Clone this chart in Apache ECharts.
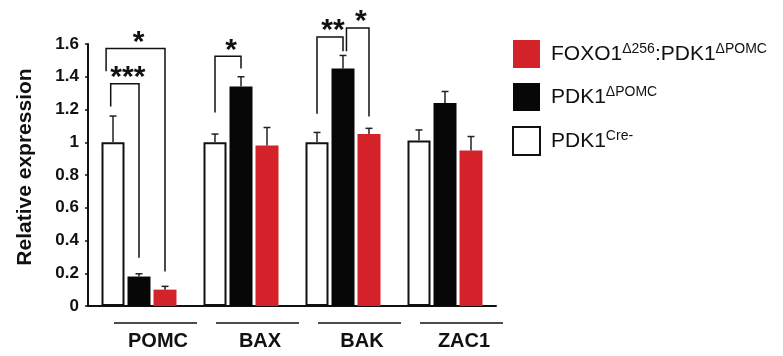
<!DOCTYPE html>
<html>
<head>
<meta charset="utf-8">
<script src="https://cdn.jsdelivr.net/npm/echarts@6/dist/echarts.min.js"></script>
<style>html,body{margin:0;padding:0;background:#fff;}#c{width:783px;height:356px;}</style>
</head>
<body>
<div id="c"></div>
<script>
// ---- data ----
const categories = ['POMC', 'BAX', 'BAK', 'ZAC1'];
const seriesNames = ['PDK1Cre-', 'PDK1ΔPOMC', 'FOXO1Δ256:PDK1ΔPOMC'];
const creValues  = [1.00, 1.00, 1.00, 1.01];
const creErrors  = [0.16, 0.05, 0.06, 0.065];
const pdkValues  = [0.18, 1.34, 1.45, 1.24];
const pdkErrors  = [0.017, 0.06, 0.08, 0.07];
const foxoValues = [0.10, 0.98, 1.05, 0.95];
const foxoErrors = [0.02, 0.11, 0.035, 0.085];
const yMin = 0, yMax = 1.6, yStep = 0.2;
const yAxisName = 'Relative expression';
// significance brackets: category, bar from, bar to, top value, from-end value, to-end value
const bracketCats   = [0, 0, 1, 2, 2];
const bracketFrom   = [0, 0, 0, 0, 1];
const bracketTo     = [2, 1, 1, 1, 2];
const bracketTop    = [1.572, 1.358, 1.525, 1.643, 1.698];
const bracketFromY  = [1.433, 1.219, 1.182, 1.174, 1.555];
const bracketToY    = [0.21, 0.294, 1.45, 1.555, 1.158];
const bracketLabels = ['*', '***', '*', '**', '*'];
const legendRich = {
  'FOXO1Δ256:PDK1ΔPOMC': '{n|FOXO1}{s|Δ256}{n|:PDK1}{s|ΔPOMC}',
  'PDK1ΔPOMC': '{n|PDK1}{s|ΔPOMC}',
  'PDK1Cre-': '{n|PDK1}{s|Cre-}'
};

// ---- layout / style ----
const FONT = '"Liberation Sans", Arial, sans-serif';
const BAR_W = 23, BAR_GAP = 3, STEP = BAR_W + BAR_GAP;
const bracketShift = [[-0.3, 0], [-0.1, 0], [0, 0], [0, 0], [0.15, 0]];
const colors = ['#ffffff', '#070707', '#d3222a'];

const chart = echarts.init(document.getElementById('c'), null, {renderer: 'canvas'});

function errSeries(k, vals, errs) {
  return {
    type: 'custom', name: seriesNames[k] + '_err', silent: true, clip: false, z: 5,
    data: vals.map((v, i) => [i, v, errs[i]]),
    renderItem: function (params, api) {
      const base = api.coord([api.value(0), 0]);
      const x = base[0] + (k - 1) * STEP;
      const y0 = api.coord([api.value(0), api.value(1)])[1];
      const y1 = api.coord([api.value(0), api.value(1) + api.value(2)])[1];
      return {
        type: 'group', children: [
          {type: 'line', shape: {x1: x, y1: y0, x2: x, y2: y1}, style: {stroke: '#222', lineWidth: 1.5}},
          {type: 'line', shape: {x1: x - 3.5, y1: y1, x2: x + 3.5, y2: y1}, style: {stroke: '#222', lineWidth: 1.5}}
        ]
      };
    }
  };
}

const bracketData = bracketCats.map((c, i) => [c, bracketFrom[i], bracketTo[i], bracketTop[i], bracketFromY[i], bracketToY[i]]);

const option = {
  backgroundColor: '#fff',
  animation: false,
  grid: {left: 88, width: 408, top: 44, bottom: 50},
  legend: {
    orient: 'vertical', left: 507, top: 35,
    itemWidth: 27, itemHeight: 28, itemGap: 15,
    icon: 'rect',
    data: [seriesNames[2], seriesNames[1], seriesNames[0]],
    formatter: name => legendRich[name],
    textStyle: {
      padding: [0, 0, 0, 6],
      rich: {
        n: {fontSize: 21, fontFamily: FONT, color: '#111', lineHeight: 26},
        s: {fontSize: 14, fontFamily: FONT, color: '#111', lineHeight: 16, verticalAlign: 'top', padding: [1, 0, 0, 0]}
      }
    }
  },
  xAxis: {
    type: 'category', data: categories,
    axisLine: {lineStyle: {color: '#111', width: 2}},
    axisTick: {show: false},
    axisLabel: {fontSize: 20, fontWeight: 'bold', fontFamily: FONT, color: '#111', margin: 25, padding: [0, 0, 0, 38]}
  },
  yAxis: {
    type: 'value', min: yMin, max: yMax, interval: yStep,
    name: yAxisName, nameLocation: 'middle', nameGap: 52,
    nameTextStyle: {fontSize: 21, fontWeight: 'bold', fontFamily: FONT, color: '#111', padding: [0, 0, 0, 16]},
    axisLine: {show: true, lineStyle: {color: '#111', width: 2}},
    axisTick: {show: true, length: 3, lineStyle: {color: '#111', width: 1.5}},
    splitLine: {show: false},
    axisLabel: {fontSize: 17, fontWeight: 'bold', fontFamily: FONT, color: '#111', margin: 9}
  },
  series: [
    {type: 'bar', name: seriesNames[0], data: creValues, barWidth: BAR_W, barGap: (BAR_GAP / BAR_W * 100) + '%',
      itemStyle: {color: colors[0], borderColor: '#111', borderWidth: 2}},
    {type: 'bar', name: seriesNames[1], data: pdkValues, barWidth: BAR_W, itemStyle: {color: colors[1]}},
    {type: 'bar', name: seriesNames[2], data: foxoValues, barWidth: BAR_W, itemStyle: {color: colors[2]}},
    errSeries(0, creValues, creErrors),
    errSeries(1, pdkValues, pdkErrors),
    errSeries(2, foxoValues, foxoErrors),
    {
      type: 'custom', name: 'groupLines', silent: true, clip: false, z: 5,
      data: categories.map((c, i) => [i, 0]),
      renderItem: function (params, api) {
        const p = api.coord([api.value(0), 0]);
        return {type: 'line', shape: {x1: p[0] - 25, y1: p[1] + 17, x2: p[0] + 58, y2: p[1] + 17},
          style: {stroke: '#111', lineWidth: 1.5}};
      }
    },
    {
      type: 'custom', name: 'brackets', silent: true, clip: false, z: 6,
      data: bracketData,
      renderItem: function (params, api) {
        const i = params.dataIndex;
        const cat = api.value(0);
        const base = api.coord([cat, 0]);
        const xA = base[0] + (api.value(1) - 1) * STEP + bracketShift[i][0] * BAR_W;
        const xB = base[0] + (api.value(2) - 1) * STEP + bracketShift[i][1] * BAR_W;
        const yT = api.coord([cat, api.value(3)])[1];
        const yA = api.coord([cat, api.value(4)])[1];
        const yB = api.coord([cat, api.value(5)])[1];
        return {
          type: 'group', children: [
            {type: 'polyline', shape: {points: [[xA, yA], [xA, yT], [xB, yT], [xB, yB]]},
              style: {stroke: '#111', lineWidth: 1.5, fill: null}},
            {type: 'text', style: {text: bracketLabels[i], x: (xA + xB) / 2 + 3, y: yT - 6,
              align: 'center', verticalAlign: 'middle', fontSize: 30, fontWeight: 'bold', fontFamily: FONT, fill: '#111'}}
          ]
        };
      }
    }
  ]
};
chart.setOption(option);
</script>
</body>
</html>
